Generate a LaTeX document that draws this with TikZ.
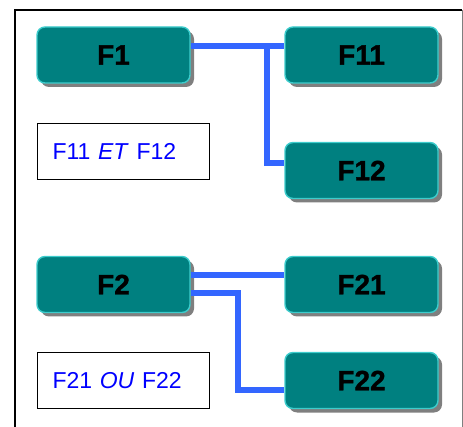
\documentclass[tikz,border=0pt]{standalone}
\usepackage{fontspec}
\setmainfont{Liberation Sans}
\newfontfamily\heavyfont{Liberation Sans Bold}[FakeBold=1.2]
\usetikzlibrary{shadows}
\definecolor{tealfill}{HTML}{008080}
\definecolor{tealedge}{HTML}{3CCCCC}
\definecolor{linkblue}{HTML}{3366FF}
\definecolor{shadowgrey}{HTML}{7F7F7F}
\tikzset{
  x=1pt, y=-1pt,
  fbox/.style={draw=tealedge, line width=1.4pt, fill=tealfill, rounded corners=8pt,
    minimum width=153pt, minimum height=56pt, inner sep=0pt,
    font=\fontsize{28}{28}\heavyfont,
    drop shadow={shadow xshift=4pt, shadow yshift=-4pt, fill=shadowgrey, opacity=1}},
  notebox/.style={draw=black, line width=1pt, fill=white, minimum height=56pt,
    inner xsep=15pt, inner ysep=0pt, text width=142pt, align=left,
    text=blue, font=\fontsize{23}{23}\selectfont},
  link/.style={draw=linkblue, line width=5.5pt}
}
\begin{document}
\begin{tikzpicture}
\useasboundingbox (0,0) rectangle (463,427);
% frame, open at the bottom
\draw[line width=1.3pt] (15,427) -- (15,10) -- (462,10);
\draw[shadowgrey, line width=1pt] (462,10) -- (462,427);

% first group: AND
\node[fbox] (f1)  at (113.5,55)  {F1};
\node[fbox] (f11) at (361.5,55)  {F11};
\node[fbox] (f12) at (361.5,170.5) {F12};
\node[notebox, anchor=north west] (et) at (37,123) {F11 \textit{ET} F12};
\coordinate (j1) at (267,46);
\draw[link] ([yshift=9pt]f1.east) -- ([yshift=9pt]f11.west);
\draw[link] (j1) |- ([yshift=7.5pt]f12.west);

% second group: OR
\node[fbox] (f2)  at (113.5,284.5) {F2};
\node[fbox] (f21) at (361.5,284.5) {F21};
\node[fbox] (f22) at (361.5,380.5) {F22};
\node[notebox, anchor=north west] (ou) at (37,352) {F21 \textit{OU} F22};
\coordinate (j2) at (238,293);
\draw[link] ([yshift=9.5pt]f2.east) -- ([yshift=9.5pt]f21.west);
\draw[link] ([yshift=-8.5pt]f2.east) -- (j2) |- ([yshift=-9.5pt]f22.west);
\end{tikzpicture}
\end{document}
